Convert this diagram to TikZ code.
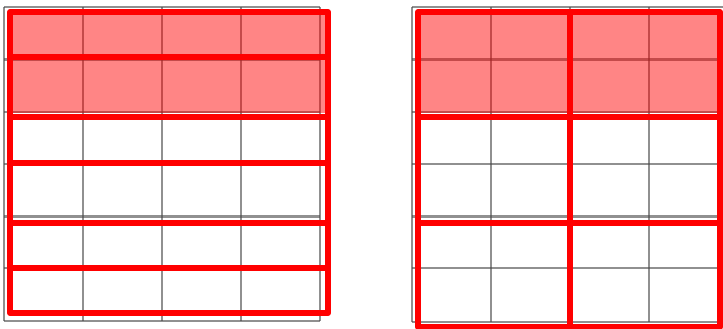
\documentclass[tikz,border=0pt]{standalone}
\usepackage{xcolor}
\usepackage{tikz}
\definecolor{cellgray}{RGB}{70, 70, 70}
\definecolor{blockred}{RGB}{255, 0, 0}
\tikzset{
  gridline/.style={cellgray, opacity=0.6, line width=2.2pt},
  blockline/.style={blockred, line width=6pt, line join=round},
  blockfill/.style={blockred, opacity=0.48}
}

\begin{document}
\begin{tikzpicture}[x=1pt, y=-1pt]
  \useasboundingbox (0,0) rectangle (723,329);
  % Left: 4x6 cell grid, cut into row blocks
  \foreach \gx in {4, 83, 162, 241, 320}
    \draw[gridline] (\gx,7) -- (\gx,321);
  \foreach \gy in {7, 59.5, 112, 164, 216.5, 268, 321}
    \draw[gridline] (4,\gy) -- (320,\gy);
  \fill[blockfill] (10,12) rectangle (325,113);
  \foreach \ya/\yb in {12/57, 57/117, 117/163, 163/223, 223/268, 268/313}
    \draw[blockline] (10,\ya) rectangle (328,\yb);

  % Right: same grid, cut into 2x2 blocks
  \foreach \gx in {412, 491, 570, 649}
    \draw[gridline] (\gx,7) -- (\gx,322);
  \foreach \gy in {7, 59.5, 112, 164, 216.5, 268, 322}
    \draw[gridline] (412,\gy) -- (723,\gy);
  \fill[blockfill] (418,12) rectangle (722,113);
  \foreach \xa/\xb in {418/570, 570/720}
    \foreach \ya/\yb in {12/117, 117/223, 223/327}
      \draw[blockline] (\xa,\ya) rectangle (\xb,\yb);
\end{tikzpicture}
\end{document}
